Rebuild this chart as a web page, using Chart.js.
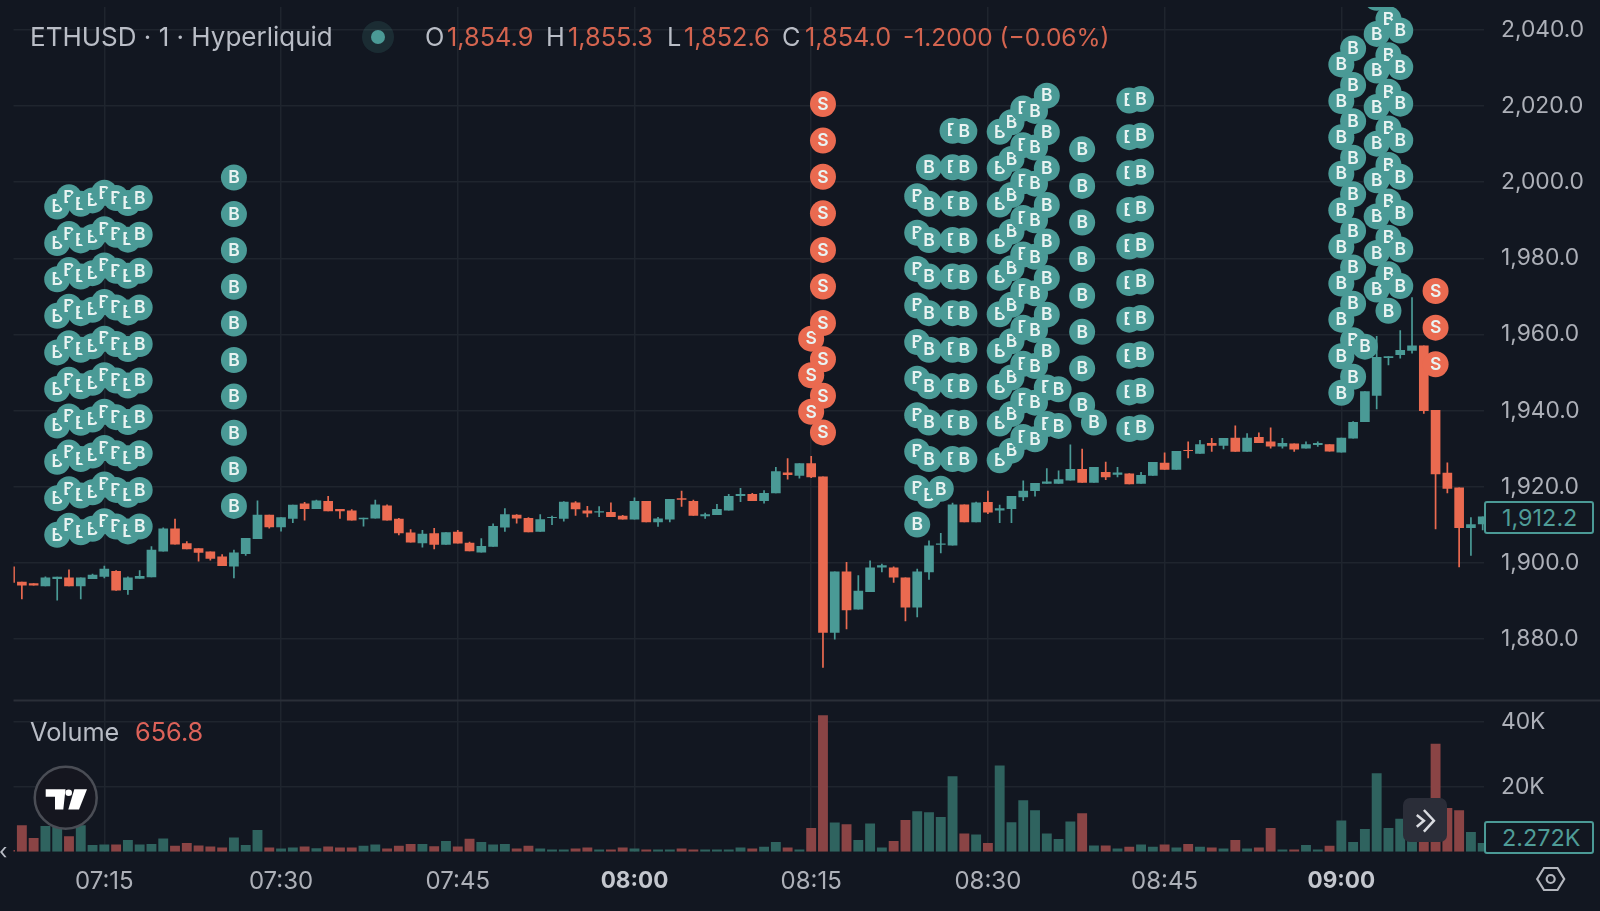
<!DOCTYPE html>
<html>
<head>
<meta charset="utf-8">
<title>ETHUSD</title>
<script src="https://cdn.jsdelivr.net/npm/chart.js@4/dist/chart.umd.min.js"></script>
<style>
    html, body { margin: 0; padding: 0; background: #121721; }
    #wrap { position: relative; width: 1600px; height: 911px; overflow: hidden; font-family: Inter, sans-serif; }
    /* canvas sits 6px higher: the top tick label keeps some free room above the plot */
    #myChart { position: absolute; left: 0; top: -6px; }
    #wrap svg { position: absolute; left: 0; top: 0; }
    .t { position: absolute; font-size: 25.3px; line-height: 30px; white-space: nowrap; color: #b9bdc6; }
    .r { color: #d4644f; }
    .box { position: absolute; left: 1484px; width: 106px; height: 29px; border: 2px solid #4b9a96; border-radius: 3px;
           background: #121721; color: #4f9c97; font-size: 23.4px; line-height: 29px; padding-left: 0; text-indent: 16px; }
</style>
</head>
<body>
<div id="wrap">
    <canvas id="myChart" width="1600" height="917"></canvas>
    <div class="t" style="left:30px;top:22px;font-size:26px">ETHUSD · 1 · Hyperliquid</div>
    <div class="t" style="left:425px;top:22px">O</div><div class="t r" style="left:447px;top:22px">1,854.9</div>
    <div class="t" style="left:546px;top:22px">H</div><div class="t r" style="left:568px;top:22px">1,855.3</div>
    <div class="t" style="left:667px;top:22px">L</div><div class="t r" style="left:684px;top:22px">1,852.6</div>
    <div class="t" style="left:782px;top:22px">C</div><div class="t r" style="left:805px;top:22px">1,854.0</div>
    <div class="t r" style="left:903px;top:22px;font-size:24.5px">-1.2000 (−0.06%)</div>
    <div class="t" style="left:30px;top:717px">Volume</div>
    <div class="t" style="left:135px;top:717px;color:#dc6259">656.8</div>
    <div class="t" style="left:-1px;top:836px;font-size:22px">‹</div>
    <svg width="1600" height="911">
        <circle cx="378" cy="37" r="16" fill="#4b9a96" fill-opacity="0.16"/>
        <circle cx="378" cy="37" r="7" fill="#4b9a96"/>
        <circle cx="65.7" cy="797.7" r="31" fill="#15161f" stroke="#4a4d55" stroke-width="2.5"/>
        <polygon fill="#fff" points="45.7,789.3 65.5,789.3 63.3,809.5 55,809.5 55,796.8 45.7,796.8"/>
        <circle cx="68.7" cy="792.7" r="3.3" fill="#fff"/>
        <polygon fill="#fff" points="74.3,789.3 87,789.3 79,809.5 68.3,809.5"/>
        <rect x="1403" y="798" width="44" height="44" rx="7" fill="#2a2d38"/>
        <polyline points="1416.8,815 1423.9,820.7 1416.8,826.7" fill="none" stroke="#d9dbe0" stroke-width="2.5"/>
        <polyline points="1423.9,810 1433.9,820.7 1423.9,831.7" fill="none" stroke="#d9dbe0" stroke-width="2.5"/>
        <polygon points="1537.2,879 1544,868 1557.5,868 1564.2,879 1557.5,890 1544,890" fill="none" stroke="#b4b7be" stroke-width="2.2"/>
        <circle cx="1550.7" cy="879" r="4" fill="none" stroke="#b4b7be" stroke-width="2.2"/>
    </svg>
    <div class="box" style="top:501px">1,912.2</div>
    <div class="box" style="top:821px">2.272K</div>
</div>
<script>
// one bar per minute, minutes since midnight
const minutes = [
    427, 428, 429, 430, 431, 432, 433, 434, 435, 436, 437, 438, 439, 440, 441, 442, 443, 444, 445, 446, 447,
    448, 449, 450, 451, 452, 453, 454, 455, 456, 457, 458, 459, 460, 461, 462, 463, 464, 465, 466, 467, 468,
    469, 470, 471, 472, 473, 474, 475, 476, 477, 478, 479, 480, 481, 482, 483, 484, 485, 486, 487, 488, 489,
    490, 491, 492, 493, 494, 495, 496, 497, 498, 499, 500, 501, 502, 503, 504, 505, 506, 507, 508, 509, 510,
    511, 512, 513, 514, 515, 516, 517, 518, 519, 520, 521, 522, 523, 524, 525, 526, 527, 528, 529, 530, 531,
    532, 533, 534, 535, 536, 537, 538, 539, 540, 541, 542, 543, 544, 545, 546, 547, 548, 549, 550, 551, 552,
];
const opens = [
    1899.1, 1895.1, 1894.7, 1893.9, 1895.8, 1896.2, 1893.9, 1895.8, 1896.4, 1897.9, 1892.9, 1895.9, 1896.3, 1903.0, 1909.1, 1905.2, 1903.9, 1903.0, 1901.7, 1899.1, 1902.4,
    1906.3, 1912.7, 1909.4, 1911.6, 1915.6, 1914.2, 1916.3, 1914.2, 1913.8, 1911.5, 1911.7, 1915.1, 1911.6, 1908.0, 1905.2, 1907.8, 1904.8, 1908.2, 1905.3, 1902.8, 1904.3,
    1909.3, 1912.7, 1911.8, 1908.2, 1911.8, 1911.6, 1915.9, 1913.8, 1913.3, 1913.4, 1912.4, 1911.4, 1916.3, 1910.7, 1911.4, 1917.0, 1916.3, 1912.3, 1912.6, 1913.8, 1917.6,
    1918.1, 1916.3, 1918.3, 1923.8, 1922.9, 1926.2, 1922.7, 1881.7, 1897.8, 1887.8, 1892.4, 1898.8, 1898.8, 1896.2, 1888.3, 1897.6, 1904.8, 1904.6, 1915.4, 1910.7, 1916.0,
    1913.8, 1914.2, 1917.3, 1918.9, 1920.8, 1920.8, 1921.7, 1924.7, 1921.1, 1923.9, 1923.2, 1923.5, 1920.8, 1922.9, 1926.3, 1924.5, 1929.7, 1928.7, 1931.5, 1930.8, 1932.9,
    1929.2, 1933.1, 1931.9, 1930.6, 1931.4, 1930.1, 1931.0, 1931.2, 1929.0, 1932.7, 1937.0, 1943.9, 1953.8, 1954.6, 1955.7, 1957.1, 1940.2, 1923.7, 1919.8, 1909.2, 1910.2,
];
const highs = [
    1899.1, 1895.1, 1894.7, 1896.5, 1896.4, 1898.3, 1896.2, 1897.2, 1899.3, 1898.1, 1896.5, 1898.1, 1904.4, 1909.3, 1911.6, 1905.7, 1903.9, 1903.0, 1902.3, 1903.5, 1906.6,
    1916.4, 1912.7, 1912.0, 1915.3, 1916.0, 1916.6, 1917.6, 1914.2, 1914.1, 1911.9, 1916.6, 1915.4, 1911.8, 1908.9, 1908.7, 1909.2, 1908.1, 1908.7, 1905.6, 1906.5, 1910.4,
    1914.4, 1912.8, 1912.0, 1912.8, 1912.4, 1916.2, 1916.2, 1915.0, 1914.9, 1915.9, 1912.6, 1917.2, 1916.3, 1912.1, 1916.8, 1919.0, 1916.6, 1913.2, 1915.5, 1918.1, 1919.7,
    1918.4, 1919.1, 1925.2, 1927.5, 1926.2, 1928.1, 1922.7, 1897.8, 1900.3, 1896.8, 1900.7, 1899.8, 1899.1, 1896.2, 1898.5, 1905.9, 1907.9, 1915.8, 1915.4, 1916.1, 1919.0,
    1915.3, 1917.6, 1921.7, 1921.0, 1924.9, 1924.3, 1931.1, 1930.0, 1925.2, 1926.6, 1925.2, 1923.6, 1923.9, 1926.5, 1929.0, 1929.4, 1931.9, 1932.3, 1932.8, 1932.8, 1936.1,
    1934.1, 1934.3, 1935.6, 1932.8, 1931.4, 1931.9, 1931.9, 1931.2, 1932.9, 1937.2, 1945.1, 1959.6, 1954.3, 1961.1, 1969.8, 1957.1, 1940.2, 1926.4, 1919.8, 1912.0, 1912.2,
];
const lows = [
    1894.8, 1890.5, 1894.1, 1893.9, 1890.2, 1893.9, 1890.5, 1895.8, 1896.0, 1892.7, 1891.7, 1895.9, 1896.3, 1903.0, 1904.9, 1903.6, 1900.4, 1900.7, 1899.2, 1896.0, 1901.9,
    1906.3, 1909.1, 1908.3, 1910.5, 1911.2, 1914.2, 1913.6, 1911.6, 1911.2, 1909.6, 1911.7, 1911.2, 1907.3, 1905.4, 1904.1, 1903.6, 1904.8, 1905.1, 1903.1, 1902.8, 1904.3,
    1908.2, 1910.4, 1908.1, 1908.2, 1910.0, 1910.9, 1912.4, 1912.0, 1912.1, 1912.1, 1911.4, 1911.4, 1910.7, 1909.5, 1910.7, 1914.8, 1912.4, 1911.6, 1912.6, 1913.8, 1916.0,
    1916.3, 1915.6, 1918.3, 1921.9, 1922.2, 1922.3, 1872.5, 1879.9, 1882.6, 1887.8, 1892.4, 1897.6, 1894.8, 1884.7, 1885.8, 1895.6, 1902.6, 1904.6, 1910.7, 1910.7, 1912.9,
    1910.5, 1910.5, 1916.3, 1917.5, 1920.8, 1920.8, 1921.7, 1921.1, 1921.1, 1921.8, 1922.5, 1920.7, 1920.8, 1922.9, 1924.5, 1924.5, 1927.5, 1928.7, 1929.2, 1929.9, 1929.2,
    1929.2, 1931.5, 1930.1, 1930.1, 1929.2, 1930.1, 1930.5, 1929.3, 1929.0, 1932.7, 1937.0, 1940.4, 1951.9, 1953.7, 1955.0, 1939.2, 1908.9, 1918.3, 1898.9, 1901.9, 1908.6,
];
const closes = [
    1894.8, 1894.1, 1894.1, 1896.2, 1896.4, 1893.9, 1896.2, 1896.9, 1898.5, 1892.8, 1896.2, 1896.6, 1903.5, 1909.1, 1904.9, 1903.6, 1902.7, 1901.1, 1899.2, 1902.8, 1906.6,
    1912.7, 1909.4, 1912.0, 1915.3, 1914.2, 1916.4, 1913.6, 1913.6, 1911.2, 1911.9, 1915.4, 1911.2, 1907.8, 1905.4, 1907.7, 1904.8, 1908.1, 1905.1, 1903.1, 1904.5, 1909.7,
    1912.8, 1911.7, 1908.1, 1911.5, 1912.1, 1916.1, 1914.1, 1913.0, 1913.6, 1912.1, 1911.4, 1916.3, 1910.7, 1911.7, 1916.8, 1916.6, 1912.4, 1912.8, 1914.2, 1917.6, 1918.1,
    1916.3, 1918.4, 1924.1, 1923.1, 1926.2, 1922.5, 1881.7, 1897.8, 1887.6, 1892.7, 1898.8, 1899.4, 1896.2, 1888.3, 1897.8, 1904.6, 1905.1, 1915.4, 1910.7, 1915.9, 1913.3,
    1914.4, 1917.6, 1919.0, 1921.0, 1921.4, 1922.0, 1924.7, 1921.1, 1925.2, 1922.5, 1923.8, 1920.7, 1923.1, 1926.5, 1924.5, 1929.4, 1929.4, 1931.2, 1930.8, 1932.8, 1929.2,
    1932.9, 1931.5, 1930.6, 1931.5, 1929.8, 1931.2, 1931.5, 1929.3, 1932.9, 1937.0, 1945.1, 1954.1, 1954.3, 1955.9, 1957.1, 1939.9, 1923.3, 1919.5, 1909.2, 1910.2, 1912.2,
];
const volumes = [
    500, 8200, 4200, 7900, 7900, 4800, 8200, 2100, 2200, 2200, 3600, 2200, 2400, 4100, 1800, 2700, 1900, 1600, 1300, 4400, 2100,
    6700, 1300, 1000, 1300, 1600, 1100, 1600, 1300, 1300, 1800, 2200, 1000, 1800, 2400, 2400, 1700, 3300, 1600, 4000, 3000, 2200,
    2400, 1000, 1800, 1000, 700, 700, 1000, 1300, 700, 700, 1300, 1000, 700, 700, 700, 1000, 700, 700, 700, 700, 1300,
    1000, 1500, 3000, 1300, 700, 7300, 42100, 9000, 8500, 3600, 8700, 1300, 3300, 9800, 12500, 12200, 10700, 23300, 5600, 5300, 2700,
    26600, 9100, 15900, 12800, 5600, 3900, 9300, 11900, 1900, 1900, 1000, 1500, 2200, 1500, 2200, 1300, 2400, 1500, 1300, 1000, 3600,
    1000, 1300, 7300, 700, 700, 2100, 700, 1800, 9600, 3000, 7000, 24200, 7300, 10200, 5000, 5000, 33300, 13500, 12800, 6100, 2700,
];
const priceTicks = [1880, 1900, 1920, 1940, 1960, 1980, 2000, 2020, 2040];
const volumeTicks = [20000, 40000];

// trade marks: [minute, prices of that minute's marks]
const buyMarks = [
    [431, [1907.4, 1917.0, 1926.6, 1936.1, 1945.7, 1955.3, 1964.9, 1974.5, 1984.0, 1993.6]],
    [432, [1909.8, 1919.4, 1929.0, 1938.5, 1948.1, 1957.7, 1967.3, 1976.9, 1986.4, 1996.0]],
    [433, [1908.1, 1917.7, 1927.3, 1936.8, 1946.4, 1956.0, 1965.6, 1975.2, 1984.7, 1994.3]],
    [434, [1909.0, 1918.6, 1928.2, 1937.7, 1947.3, 1956.9, 1966.5, 1976.1, 1985.6, 1995.2]],
    [435, [1911.0, 1920.6, 1930.2, 1939.7, 1949.3, 1958.9, 1968.5, 1978.1, 1987.6, 1997.2]],
    [436, [1909.6, 1919.2, 1928.8, 1938.3, 1947.9, 1957.5, 1967.1, 1976.7, 1986.2, 1995.8]],
    [437, [1908.3, 1917.9, 1927.5, 1937.0, 1946.6, 1956.2, 1965.8, 1975.4, 1984.9, 1994.5]],
    [438, [1909.6, 1919.2, 1928.8, 1938.3, 1947.9, 1957.5, 1967.1, 1976.7, 1986.2, 1995.8]],
    [446, [1915.0, 1924.6, 1934.2, 1943.7, 1953.3, 1962.9, 1972.5, 1982.1, 1991.6, 2001.2]],
    [504, [1910.1, 1919.7, 1929.3, 1938.8, 1948.4, 1958.0, 1967.6, 1977.2, 1986.7, 1996.3]],
    [505, [1917.7, 1927.3, 1936.9, 1946.4, 1956.0, 1965.6, 1975.2, 1984.8, 1994.3, 2003.9]],
    [506, [1919.5]],
    [507, [1927.3, 1936.9, 1946.5, 1956.0, 1965.6, 1975.2, 1984.8, 1994.4, 2003.9, 2013.5]],
    [508, [1927.2, 1936.8, 1946.4, 1955.9, 1965.5, 1975.1, 1984.7, 1994.3, 2003.8, 2013.4]],
    [511, [1927.0, 1936.6, 1946.2, 1955.7, 1965.3, 1974.9, 1984.5, 1994.1, 2003.6, 2013.2]],
    [512, [1929.5, 1939.1, 1948.7, 1958.2, 1967.8, 1977.4, 1987.0, 1996.6, 2006.1, 2015.7]],
    [513, [1933.1, 1942.7, 1952.3, 1961.8, 1971.4, 1981.0, 1990.6, 2000.2, 2009.7, 2019.3]],
    [514, [1932.5, 1942.1, 1951.7, 1961.2, 1970.8, 1980.4, 1990.0, 1999.6, 2009.1, 2018.7]],
    [515, [1936.5, 1946.1, 1955.7, 1965.2, 1974.8, 1984.4, 1994.0, 2003.6, 2013.1, 2022.7]],
    [516, [1936.0, 1945.6]],
    [518, [1941.5, 1951.1, 1960.7, 1970.2, 1979.8, 1989.4, 1999.0, 2008.6]],
    [519, [1936.9]],
    [522, [1935.2, 1944.8, 1954.4, 1963.9, 1973.5, 1983.1, 1992.7, 2002.3, 2011.8, 2021.4]],
    [523, [1935.6, 1945.2, 1954.8, 1964.3, 1973.9, 1983.5, 1993.1, 2002.7, 2012.2, 2021.8]],
    [540, [1944.7, 1954.3, 1963.9, 1973.4, 1983.0, 1992.6, 2002.2, 2011.8, 2021.3, 2030.9]],
    [541, [1948.9, 1958.5, 1968.1, 1977.6, 1987.2, 1996.8, 2006.4, 2016.0, 2025.5, 2035.1]],
    [542, [1956.8]],
    [543, [1971.8, 1981.4, 1991.0, 2000.5, 2010.1, 2019.7, 2029.3, 2038.9, 2048.4]],
    [544, [1966.2, 1975.8, 1985.4, 1994.9, 2004.5, 2014.1, 2023.7, 2033.3, 2042.8]],
    [545, [1972.7, 1982.3, 1991.9, 2001.4, 2011.0, 2020.6, 2030.2, 2039.8]],
];
const sellMarks = [
    [495, [1939.7, 1949.3, 1958.9]],
    [496, [1934.3, 1943.9, 1953.5, 1963.0, 1972.6, 1982.2, 1991.8, 2001.4, 2010.9, 2020.5]],
    [548, [1952.2, 1961.8, 1971.4]],
];

const FONT = 'Inter';
const GREEN = '#4a9a96';
const RED = '#ea6a50';
const GREEN_VOL = '#2f635f';
const RED_VOL = '#8a4445';
const GRID = '#1f252e';
const TICK = '#adb0b8';

function isUp(i) {
    return closes[i] >= opens[i];
}
function flatten(marks) {
    let points = [];
    marks.forEach(function (mark) {
        mark[1].forEach(function (price) {
            points.push({ x: mark[0], y: price });
        });
    });
    return points;
}
function pad(n) {
    return String(n).padStart(2, '0');
}

// marks go circle + letter one at a time so a later circle covers the earlier letter
const markLetters = {
    id: 'markLetters',
    beforeDatasetDraw: function (chart, args) {
        const letter = args.meta.controller.getDataset().letter;
        if (!letter) {
            return true;
        }
        const ctx = chart.ctx;
        const area = chart.chartArea;
        const yScale = chart.scales.y;
        ctx.save();
        ctx.beginPath();
        ctx.rect(area.left, yScale.top, area.right - area.left, yScale.bottom - yScale.top);
        ctx.clip();
        args.meta.data.forEach(function (pt) {
            pt.draw(ctx);
            ctx.fillStyle = '#e9f3f2';
            ctx.font = '600 17.5px ' + FONT;
            ctx.textAlign = 'center';
            ctx.textBaseline = 'middle';
            ctx.fillText(letter, pt.x, pt.y + 0.5);
        });
        ctx.restore();
        return false;
    }
};

// line between the price and volume panes, full width
const paneLine = {
    id: 'paneLine',
    beforeDatasetsDraw: function (chart) {
        const ctx = chart.ctx;
        const y = chart.scales.y.bottom;
        ctx.save();
        ctx.strokeStyle = '#2a2f38';
        ctx.lineWidth = 2;
        ctx.beginPath();
        ctx.moveTo(chart.chartArea.left, y);
        ctx.lineTo(chart.width, y);
        ctx.stroke();
        ctx.restore();
    }
};

const data = {
    datasets: [
        {
            type: 'scatter',
            letter: 'S',
            data: flatten(sellMarks),
            yAxisID: 'y',
            order: 0,
            backgroundColor: RED,
            borderWidth: 0,
            pointRadius: 13,
        },
        {
            type: 'scatter',
            letter: 'B',
            data: flatten(buyMarks),
            yAxisID: 'y',
            order: 0,
            backgroundColor: GREEN,
            borderWidth: 0,
            pointRadius: 13,
        },
        {
            label: 'Body',
            data: minutes.map(function (m, i) { return { x: m, y: [opens[i], closes[i]] }; }),
            yAxisID: 'y',
            order: 1,
            grouped: false,
            barPercentage: 0.82,
            categoryPercentage: 1,
            backgroundColor: minutes.map(function (m, i) { return isUp(i) ? GREEN : RED; }),
        },
        {
            label: 'Wick',
            data: minutes.map(function (m, i) { return { x: m, y: [lows[i], highs[i]] }; }),
            yAxisID: 'y',
            order: 2,
            grouped: false,
            maxBarThickness: 1.7,
            backgroundColor: minutes.map(function (m, i) { return isUp(i) ? GREEN : RED; }),
        },
        {
            label: 'Volume',
            data: minutes.map(function (m, i) { return { x: m, y: volumes[i] }; }),
            yAxisID: 'volume',
            order: 3,
            grouped: false,
            barPercentage: 0.84,
            categoryPercentage: 1,
            backgroundColor: minutes.map(function (m, i) { return isUp(i) ? GREEN_VOL : RED_VOL; }),
        },
    ]
};

// axes get a fixed size, the plot area must stay put
function fixVertical(scale) {
    scale.width = 116;
    scale.paddingTop = 0;
    scale.paddingBottom = 0;
}
function fixHorizontal(scale) {
    scale.height = 59.3;
    scale.paddingLeft = 0;
    scale.paddingRight = 0;
}

const config = {
    type: 'bar',
    data: data,
    plugins: [markLetters, paneLine],
    options: {
        responsive: false,
        animation: false,
        events: [],
        layout: { padding: { left: 13.5, top: 0, right: 0, bottom: 0 } },
        plugins: {
            legend: { display: false },
            title: { display: false },
            tooltip: { enabled: false },
        },
        scales: {
            x: {
                type: 'linear',
                offset: false,
                min: 427.29,
                max: 552.11,
                afterFit: fixHorizontal,
                border: { display: false },
                grid: { offset: false, color: GRID, lineWidth: 1.5, drawTicks: false },
                ticks: {
                    stepSize: 15,
                    includeBounds: false,
                    autoSkip: false,
                    maxRotation: 0,
                    padding: 16,
                    color: function (ctx) { return ctx.tick && ctx.tick.value % 60 === 0 ? '#c4c7ce' : TICK; },
                    font: function (ctx) {
                        const hour = ctx.tick && ctx.tick.value % 60 === 0;
                        return { family: FONT, size: hour ? 22.5 : 24, weight: hour ? '700' : '400' };
                    },
                    callback: function (value) {
                        return pad(Math.floor(value / 60)) + ':' + pad(value % 60);
                    },
                },
            },
            y: {
                position: 'right',
                stack: 'panes',
                stackWeight: 695.5,
                min: 1863.93,
                max: 2045.97,
                afterFit: fixVertical,
                afterBuildTicks: function (scale) {
                    scale.ticks = priceTicks.map(function (v) { return { value: v }; });
                },
                border: { display: false },
                grid: { color: GRID, lineWidth: 1.5, drawTicks: false },
                ticks: {
                    padding: 17,
                    color: TICK,
                    font: { family: FONT, size: 22.8 },
                    callback: function (value) {
                        return value.toLocaleString('en-US', { minimumFractionDigits: 1, maximumFractionDigits: 1 });
                    },
                },
            },
            volume: {
                position: 'right',
                stack: 'panes',
                stackWeight: 151.7,
                min: 0,
                max: 46680,
                afterFit: fixVertical,
                afterBuildTicks: function (scale) {
                    scale.ticks = volumeTicks.map(function (v) { return { value: v }; });
                },
                border: { display: false },
                grid: { color: GRID, lineWidth: 1.5, drawTicks: false },
                ticks: {
                    padding: 17,
                    color: TICK,
                    font: { family: FONT, size: 22.8 },
                    callback: function (value) { return (value / 1000) + 'K'; },
                },
            },
        },
    },
};

const myChart = new Chart(document.getElementById('myChart'), config);
</script>
</body>
</html>
